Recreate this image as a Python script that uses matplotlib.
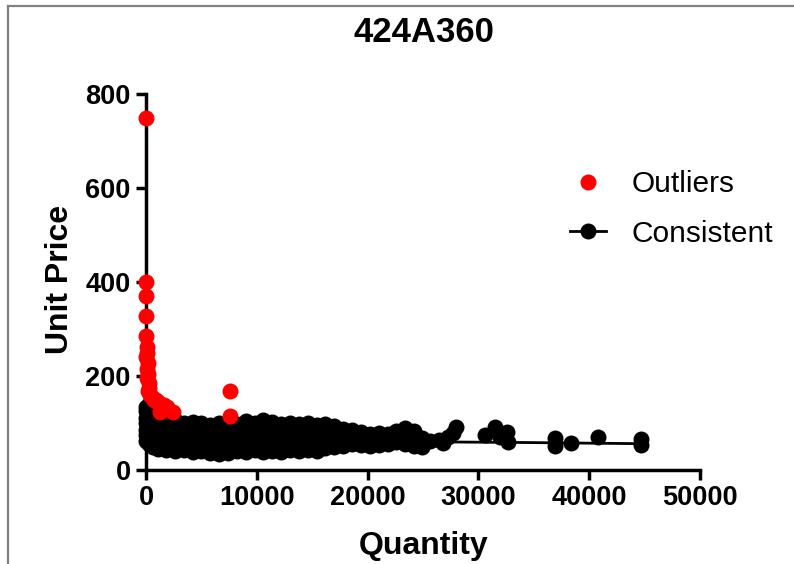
import matplotlib.pyplot as plt
from matplotlib.lines import Line2D
import numpy as np

plt.rcParams['font.family'] = ['Liberation Sans', 'DejaVu Sans']

# consistent orders, dense part: one quantity column and the unit prices seen there
band_qty = [0, 250, 600, 1100, 1800, 2600, 3400, 4200, 5000, 5800, 6600,
            7400, 8200, 9000, 9800, 10600, 11400, 12200, 13000, 13800,
            14600, 15400, 16200, 17000, 17800, 18600, 19400, 20200, 21000,
            21800, 22600, 23400, 24200, 24900]
band_price = [
    [62, 75, 85, 100, 110, 125, 135],
    [55, 78, 100, 122, 140],
    [48, 70, 92, 114, 130],
    [44, 66, 88, 110, 118],
    [42, 62, 84, 104],
    [40, 60, 80, 100, 106],
    [42, 64, 84, 100],
    [38, 58, 78, 98, 103],
    [41, 62, 82, 99],
    [36, 56, 76, 96],
    [33, 52, 74, 94, 101],
    [37, 58, 78, 96],
    [40, 60, 80, 98],
    [38, 56, 76, 97, 104],
    [42, 62, 82, 100],
    [39, 58, 80, 101, 106],
    [41, 60, 82, 103],
    [38, 58, 78, 98],
    [42, 62, 82, 100],
    [40, 60, 80, 97],
    [43, 63, 82, 100],
    [41, 60, 80, 96],
    [46, 64, 84, 98],
    [48, 66, 86, 94],
    [52, 70, 88],
    [55, 70, 86],
    [53, 66, 80],
    [51, 64, 77],
    [54, 66, 78],
    [56, 67, 77],
    [60, 71, 82],
    [55, 74, 89],
    [52, 68, 84],
    [50, 57, 68],
]

# consistent orders, sparse large quantities
tail_qty = [25600, 26400, 27300, 27700, 28000, 26800,
            30600, 31500, 31950, 32550, 32700,
            36900, 36900, 38400, 40800, 44700, 44700]
tail_price = [62, 64, 71, 78, 92, 58,
              74, 92, 71, 81, 60,
              68, 52, 58, 71, 65, 54]

# outliers
out_qty = [0, 0, 0, 0, 0, 50, 100, 0, 150, 80, 200, 120, 250, 300, 200,
           400, 500, 700, 900, 1100, 1300, 1600, 1900, 1300, 2450, 7600, 7600]
out_price = [750, 400, 370, 328, 285, 262, 250, 240, 228, 215, 205, 195, 185,
             175, 168, 160, 155, 150, 148, 145, 140, 138, 135, 124, 124, 168, 114]

# fitted curve through the consistent orders
fit_qty = [0, 2000, 5000, 10000, 15000, 20000, 25000, 34000, 44700]
fit_price = [90, 82, 76, 70, 66, 63, 60, 58.5, 56]

MS = 11.5

fig = plt.figure(figsize=(7.94, 5.64), dpi=100)
ax = fig.add_axes([146/794, 1-470/564, 554/794, 376/564])

sizes = [len(c) for c in band_price]
cons_q = np.concatenate([np.repeat(band_qty, sizes), tail_qty])
cons_p = np.concatenate([np.concatenate(band_price), tail_price])

ax.plot(fit_qty, fit_price, color='black', lw=2, zorder=2, clip_on=False)
ax.plot(cons_q, cons_p, 'o', color='black', ms=MS, mew=0, zorder=3, clip_on=False)
ax.plot(out_qty, out_price, 'o', color='red', ms=MS, mew=0, zorder=4, clip_on=False)

ax.set_xlim(0, 50000)
ax.set_ylim(0, 800)
ax.set_xticks(range(0, 50001, 10000))
ax.set_yticks(range(0, 801, 200))
for s in ['top', 'right']:
    ax.spines[s].set_visible(False)
for s in ['left', 'bottom']:
    ax.spines[s].set_linewidth(2.5)
ax.tick_params(direction='out', length=7, width=2.5, labelsize=19.5, pad=4)
for lbl in ax.get_xticklabels() + ax.get_yticklabels():
    lbl.set_fontweight('bold')

fig.text(424/794, 1-33/564, '424A360', ha='center', va='center', fontsize=25, fontweight='bold')
fig.text(60/794, 1-279/564, 'Unit Price', rotation=90, ha='center', va='center',
         fontsize=23, fontweight='bold')
fig.text(424/794, 1-546/564, 'Quantity', ha='center', va='center',
         fontsize=23, fontweight='bold')

handles = [Line2D([], [], marker='o', color='red', ls='none', ms=MS, mew=0),
           Line2D([], [], marker='o', color='black', lw=2, ms=MS, mew=0)]
ax.legend(handles, ['Outliers', 'Consistent'], loc='upper left',
          bbox_to_anchor=(570/794, 1-170/564), bbox_transform=fig.transFigure,
          frameon=False, fontsize=21.5, handlelength=1.2, handletextpad=0.85,
          labelspacing=0.73, borderaxespad=0, borderpad=0)

# window frame edges
fig.add_artist(Line2D([8/794, 8/794], [0, 1-6/564], transform=fig.transFigure,
                      color='#808080', lw=1.6))
fig.add_artist(Line2D([8/794, 1], [1-6/564, 1-6/564], transform=fig.transFigure,
                      color='#808080', lw=1.6))

fig.savefig('out.png', dpi=100)
